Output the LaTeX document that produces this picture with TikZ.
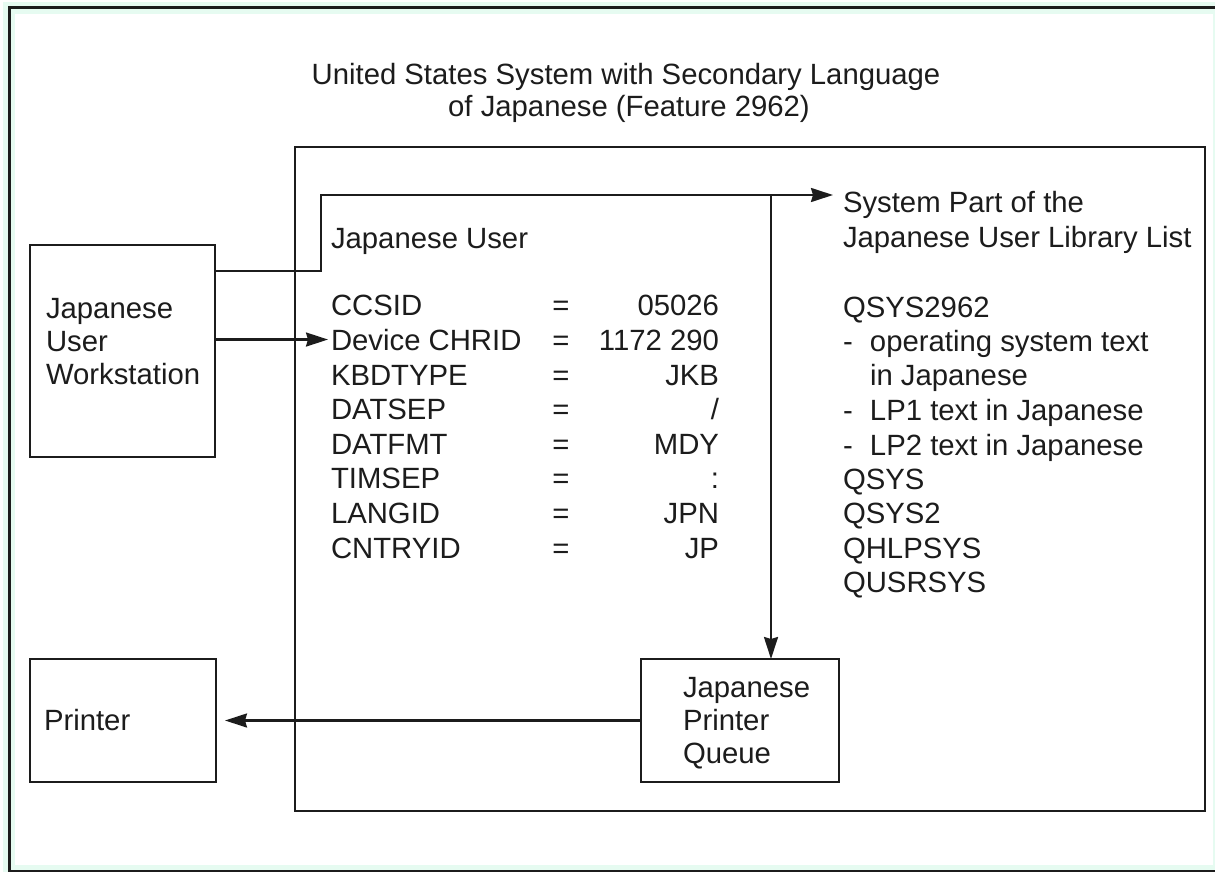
\documentclass[tikz,border=0pt]{standalone}
\usepackage{fontspec}
\setmainfont{Liberation Sans}
\usetikzlibrary{arrows.meta}
\definecolor{ink}{RGB}{28,28,28}
\definecolor{mintglow}{RGB}{230,251,241}
\tikzset{
  every node/.style={font=\fontsize{29.3}{34.7}\selectfont, text=ink, inner sep=0pt, outer sep=0pt},
  txt/.style={anchor=base west},
  valtxt/.style={anchor=base east},
  eqtxt/.style={anchor=base},
  box/.style={draw=ink, line width=2.5pt, rectangle},
  conn/.style={draw=ink, line width=2.2pt},
  arr/.style={conn, -{Stealth[length=22pt,width=14pt,inset=2pt]}},
  framestyle/.style={draw=ink, line width=3pt}
}
\begin{document}
\begin{tikzpicture}[x=1pt,y=-1pt]
\clip (0,0) rectangle (1215,872);
\fill[white] (0,0) rectangle (1215,872);
% outer frame with faint glow
\draw[mintglow, line width=12pt] (9,8) rectangle (1219,871);
\draw[framestyle] (9,8) rectangle (1219,871);

% title
\node[eqtxt] (title1) at (626,85) {United States System with Secondary Language};
\node[eqtxt] (title2) at (629,117) {of Japanese (Feature 2962)};

% boxes
\node[box, minimum width=910pt, minimum height=664pt] (sys) at (750,479) {};
\node[box, minimum width=185pt, minimum height=212pt] (ws) at (122.5,351) {};
\node[box, minimum width=186pt, minimum height=123pt] (pr) at (123,720.5) {};
\node[box, minimum width=198pt, minimum height=123pt] (pq) at (740,720.5) {};

% box texts
\node[txt] (ws1) at (46,318) {Japanese};
\node[txt] (ws2) at (46,351) {User};
\node[txt] (ws3) at (46,384) {Workstation};
\node[txt] (prt) at (44,730) {Printer};
\node[txt] (pq1) at (683,697) {Japanese};
\node[txt] (pq2) at (683,730) {Printer};
\node[txt] (pq3) at (683,763) {Queue};

% Japanese user attributes
\node[txt] (juser) at (331,248) {Japanese User};
\node[txt] (k1) at (331,315) {CCSID};        \node[eqtxt] (e1) at (561,315) {=}; \node[valtxt] (v1) at (719,315) {05026};
\node[txt, inner xsep=3pt] (k2) at (328,350) {Device CHRID}; \node[eqtxt] (e2) at (561,350) {=}; \node[valtxt] (v2) at (719,350) {1172 290};
\node[txt] (k3) at (331,385) {KBDTYPE};      \node[eqtxt] (e3) at (561,385) {=}; \node[valtxt] (v3) at (719,385) {JKB};
\node[txt] (k4) at (331,419) {DATSEP};       \node[eqtxt] (e4) at (561,419) {=}; \node[valtxt] (v4) at (719,419) {/};
\node[txt] (k5) at (331,454) {DATFMT};       \node[eqtxt] (e5) at (561,454) {=}; \node[valtxt] (v5) at (719,454) {MDY};
\node[txt] (k6) at (331,488) {TIMSEP};       \node[eqtxt] (e6) at (561,488) {=}; \node[valtxt] (v6) at (719,488) {:};
\node[txt] (k7) at (331,523) {LANGID};       \node[eqtxt] (e7) at (561,523) {=}; \node[valtxt] (v7) at (719,523) {JPN};
\node[txt] (k8) at (331,558) {CNTRYID};      \node[eqtxt] (e8) at (561,558) {=}; \node[valtxt] (v8) at (719,558) {JP};

% library list
\node[txt] (l1) at (843,212) {System Part of the};
\node[txt] (l2) at (843,247) {Japanese User Library List};
\node[txt] (l3) at (843,317) {QSYS2962};
\node[txt] (l4) at (843,351) {\makebox[27pt][l]{-}operating system text};
\node[txt] (l5) at (870,385) {in Japanese};
\node[txt] (l6) at (843,420) {\makebox[27pt][l]{-}LP1 text in Japanese};
\node[txt] (l7) at (843,455) {\makebox[27pt][l]{-}LP2 text in Japanese};
\node[txt] (l8) at (843,489) {QSYS};
\node[txt] (l9) at (843,523) {QSYS2};
\node[txt] (l10) at (843,558) {QHLPSYS};
\node[txt] (l11) at (843,592) {QUSRSYS};

% connector coordinates
\coordinate (bendlow) at (321,271);
\coordinate (bendhigh) at (321,195);
\coordinate (junction) at (771,195);
\coordinate (tiplib) at (833,195);
\coordinate (tipprinter) at (225,720.5);

% connectors
\draw[arr] (ws.east |- bendlow) -- (bendlow) -- (bendhigh) -- (tiplib);
\draw[arr] (ws.east |- k2.west) -- (k2.west);
\draw[arr] (junction) -- (junction |- pq.north);
\draw[arr] (pq.west) -- (tipprinter);
\end{tikzpicture}
\end{document}
